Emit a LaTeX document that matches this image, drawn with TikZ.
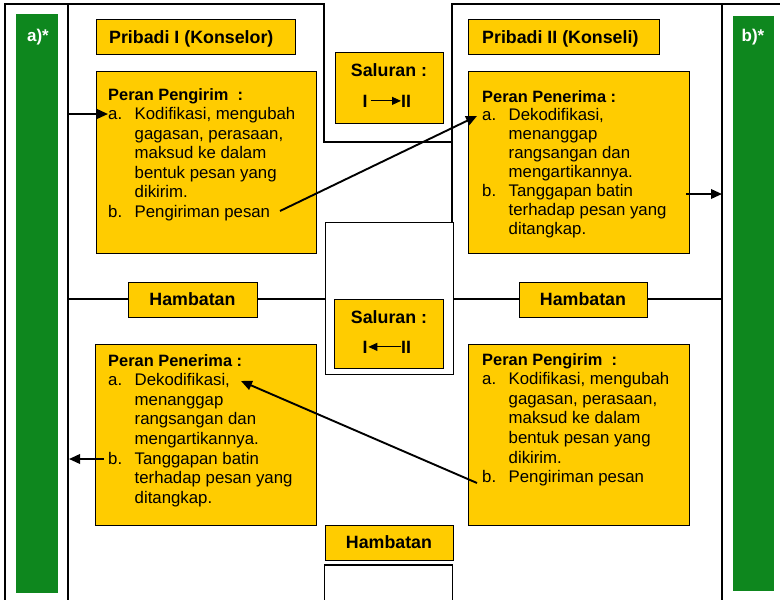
\documentclass[tikz,border=0pt]{standalone}
\usepackage{fontspec}
\setmainfont{Liberation Sans}
\usetikzlibrary{arrows.meta}
\definecolor{boxyellow}{RGB}{255,204,0}
\definecolor{bargreen}{RGB}{14,135,30}
\newcommand{\itm}[2]{\makebox[26.5pt][l]{#1}#2}
\newcommand{\cnt}[1]{\hspace*{26.5pt}#1}
\newcommand{\hd}[1]{{\fontsize{16.4}{19.5}\selectfont\bfseries #1}}
\tikzset{
  frame/.style={line width=1.3pt},
  ybox/.style={draw=black, line width=1pt, fill=boxyellow, inner sep=0, anchor=north west},
  wbox/.style={draw=black, line width=1.3pt, fill=white, inner sep=0, anchor=north west},
  gbar/.style={fill=bargreen, inner sep=0, anchor=north west},
  conn/.style={line width=1.9pt, -{Triangle[length=11pt,width=9.5pt]}},
  sconn/.style={line width=1pt, -{Triangle[length=9pt,width=8pt]}},
  bigbold/.style={font=\fontsize{17.8}{20}\selectfont\bfseries, inner sep=0},
  barlabel/.style={font=\fontsize{17}{20}\selectfont\bfseries, text=white, inner sep=0},
  body/.style={inner sep=0, anchor=base west},
}
\begin{document}
\begin{tikzpicture}[x=1pt,y=-1pt]
\useasboundingbox (0,0) rectangle (780,600);
% frame lines
\draw[frame] (5,600) -- (5,4) -- (324,4) -- (324,142) -- (452,142);
\draw[frame] (68,4) -- (68,600);
\draw[frame] (452,374) -- (452,4) -- (782,4);
\draw[frame] (722,4) -- (722,600);
\draw[frame] (68,299) -- (325,299);
\draw[frame] (452,299) -- (722,299);
% white boxes in the middle column
\node[wbox, minimum width=128pt, minimum height=152pt] (midbox) at (324.5,222) {};
\draw[frame] (324.5,602) -- (324.5,565) -- (452.5,565) -- (452.5,602);
% green bars
\node[gbar, minimum width=42pt, minimum height=579pt] (barA) at (16,14) {};
\node[gbar, minimum width=41pt, minimum height=575pt] (barB) at (733,16) {};
\node[barlabel] (labA) at (38,37) {a)*};
\node[barlabel] (labB) at (753,37) {b)*};
% Pribadi boxes
\node[ybox, minimum width=199pt, minimum height=35pt] (priA) at (96,19) {};
\node[bigbold, anchor=base west] (priAt) at (109,43.5) {Pribadi I (Konselor)};
\node[ybox, minimum width=191pt, minimum height=35pt] (priB) at (468,19) {};
\node[bigbold, anchor=base west] (priBt) at (482,43.5) {Pribadi II (Konseli)};
% Saluran boxes
\node[ybox, minimum width=108pt, minimum height=71pt] (salA) at (335,52) {};
\node[bigbold, anchor=base] (salAt) at (389,76) {Saluran :};
\node[bigbold, anchor=base west] (salAI) at (362.5,107) {I};
\node[bigbold, anchor=base west] (salAII) at (401,107) {II};
\draw[sconn] ([xshift=3pt]salAI.east) -- (salAII.west);
\node[ybox, minimum width=109pt, minimum height=69pt] (salB) at (334,299) {};
\node[bigbold, anchor=base] (salBt) at (389,323) {Saluran :};
\node[bigbold, anchor=base west] (salBI) at (362.5,353) {I};
\node[bigbold, anchor=base west] (salBII) at (401,353) {II};
\draw[sconn] (salBII.west) -- ([xshift=0.5pt]salBI.east);
% Hambatan boxes
\node[ybox, bigbold, anchor=center, minimum width=129pt, minimum height=35pt] (hamA) at (192.5,299.5) {Hambatan};
\node[ybox, bigbold, anchor=center, minimum width=128pt, minimum height=35pt] (hamB) at (583,299.5) {Hambatan};
\node[ybox, bigbold, anchor=center, minimum width=128pt, minimum height=35pt] (hamC) at (389,542.5) {Hambatan};
% content boxes
\node[ybox, minimum width=220pt, minimum height=182pt] (boxA) at (96,71) {};
\node[ybox, minimum width=221pt, minimum height=182pt] (boxB) at (468,71) {};
\node[ybox, minimum width=221pt, minimum height=181pt] (boxC) at (95,344) {};
\node[ybox, minimum width=221pt, minimum height=181pt] (boxD) at (468,344) {};
\node[body] (txtA) at (108,100) {\parbox[t]{205pt}{\raggedright\fontsize{16.8}{19.5}\selectfont
\hd{Peran Pengirim\ \ :}\\
\itm{a.}{Kodifikasi, mengubah}\\
\cnt{gagasan, perasaan,}\\
\cnt{maksud ke dalam}\\
\cnt{bentuk pesan yang}\\
\cnt{dikirim.}\\
\itm{b.}{Pengiriman pesan}}};
\node[body] (txtB) at (482,102) {\parbox[t]{205pt}{\raggedright\fontsize{16.8}{18.9}\selectfont
\hd{Peran Penerima :}\\
\itm{a.}{Dekodifikasi,}\\
\cnt{menanggap}\\
\cnt{rangsangan dan}\\
\cnt{mengartikannya.}\\
\itm{b.}{Tanggapan batin}\\
\cnt{terhadap pesan yang}\\
\cnt{ditangkap.}}};
\node[body] (txtC) at (108,366) {\parbox[t]{205pt}{\raggedright\fontsize{16.8}{19.6}\selectfont
\hd{Peran Penerima :}\\
\itm{a.}{Dekodifikasi,}\\
\cnt{menanggap}\\
\cnt{rangsangan dan}\\
\cnt{mengartikannya.}\\
\itm{b.}{Tanggapan batin}\\
\cnt{terhadap pesan yang}\\
\cnt{ditangkap.}}};
\node[body] (txtD) at (482,365) {\parbox[t]{205pt}{\raggedright\fontsize{16.8}{19.6}\selectfont
\hd{Peran Pengirim\ \ :}\\
\itm{a.}{Kodifikasi, mengubah}\\
\cnt{gagasan, perasaan,}\\
\cnt{maksud ke dalam}\\
\cnt{bentuk pesan yang}\\
\cnt{dikirim.}\\
\itm{b.}{Pengiriman pesan}}};
% connector end points
\coordinate (p1s) at (68,114);
\coordinate (p1e) at (108,114);
\coordinate (p2s) at (280,211);
\coordinate (p2e) at (477,116);
\coordinate (p3s) at (686,194);
\coordinate (p3e) at (722,194);
\coordinate (p4s) at (477,483);
\coordinate (p4e) at (241,381);
\coordinate (p5s) at (104,459);
\coordinate (p5e) at (69,459);
\draw[conn] (p1s) -- (p1e);
\draw[conn] (p2s) -- (p2e);
\draw[conn] (p3s) -- (p3e);
\draw[conn] (p4s) -- (p4e);
\draw[conn] (p5s) -- (p5e);
\end{tikzpicture}
\end{document}
